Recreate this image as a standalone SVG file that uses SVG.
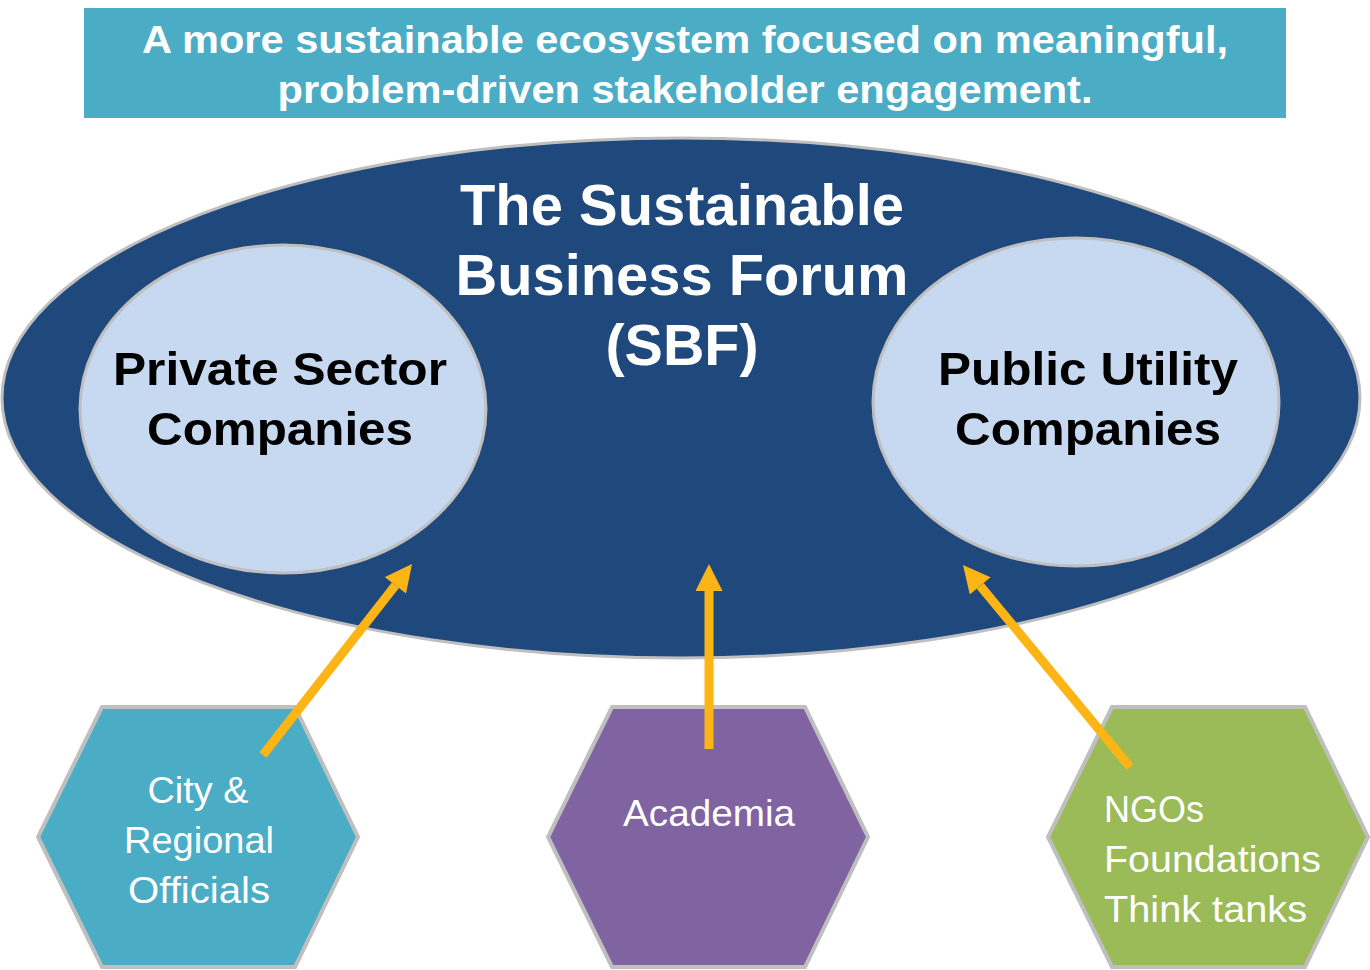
<svg xmlns="http://www.w3.org/2000/svg" width="1370" height="970" viewBox="0 0 1370 970">
<style>
.ring{stroke:#BFBFBF;stroke-width:3}
.hex{stroke:#BFBFBF;stroke-width:4}
.banner{font-family:"Liberation Sans",Arial,sans-serif;font-weight:bold;font-size:38px;fill:#fff;text-anchor:middle}
.title{font-family:"Liberation Sans",Arial,sans-serif;font-weight:bold;font-size:57px;fill:#fff;text-anchor:middle}
.inner{font-family:"Liberation Sans",Arial,sans-serif;font-weight:bold;font-size:47px;fill:#000;text-anchor:middle}
.hext{font-family:"Liberation Sans",Arial,sans-serif;font-size:36px;fill:#fff}
.arr{stroke:#FDB515;stroke-width:9;fill:none;marker-end:url(#ah)}
</style>
<defs>
<marker id="ah" viewBox="0 0 10 10" refX="0" refY="5" markerWidth="3.1" markerHeight="3" orient="auto" markerUnits="strokeWidth">
<path d="M0,0 L10,5 L0,10 z" fill="#FDB515"/>
</marker>
</defs>
<rect width="1370" height="970" fill="#fff"/>
<g id="banner">
<rect x="84" y="8" width="1202" height="110" fill="#4BACC6"/>
<text class="banner" x="685" y="53" textLength="1086" lengthAdjust="spacingAndGlyphs">A more sustainable ecosystem focused on meaningful,</text>
<text class="banner" x="685" y="103" textLength="815" lengthAdjust="spacingAndGlyphs">problem-driven stakeholder engagement.</text>
</g>
<g id="sbf">
<ellipse class="ring" cx="681" cy="398" rx="679" ry="260" fill="#1F497D"/>
<text class="title" x="682" y="225" textLength="444" lengthAdjust="spacingAndGlyphs">The Sustainable</text>
<text class="title" x="682" y="295" textLength="453" lengthAdjust="spacingAndGlyphs">Business Forum</text>
<text class="title" x="682" y="365" textLength="153" lengthAdjust="spacingAndGlyphs">(SBF)</text>
</g>
<g id="private">
<ellipse class="ring" cx="283" cy="409" rx="203" ry="164" fill="#C6D9F1"/>
<text class="inner" x="280" y="385" textLength="334" lengthAdjust="spacingAndGlyphs">Private Sector</text>
<text class="inner" x="280" y="445" textLength="266" lengthAdjust="spacingAndGlyphs">Companies</text>
</g>
<g id="public">
<ellipse class="ring" cx="1076" cy="402" rx="203" ry="164" fill="#C6D9F1"/>
<text class="inner" x="1088" y="385" textLength="300" lengthAdjust="spacingAndGlyphs">Public Utility</text>
<text class="inner" x="1088" y="445" textLength="266" lengthAdjust="spacingAndGlyphs">Companies</text>
</g>
<g id="city">
<polygon class="hex" points="102,707 295,707 358,837 295,967 102,967 38,837" fill="#4BACC6"/>
<text class="hext" x="198" y="803" text-anchor="middle" textLength="101" lengthAdjust="spacingAndGlyphs">City &amp;</text>
<text class="hext" x="199" y="853" text-anchor="middle" textLength="150" lengthAdjust="spacingAndGlyphs">Regional</text>
<text class="hext" x="199" y="903" text-anchor="middle" textLength="142" lengthAdjust="spacingAndGlyphs">Officials</text>
</g>
<g id="academia">
<polygon class="hex" points="612,707 805,707 868,837 805,967 612,967 548,837" fill="#8064A2"/>
<text class="hext" x="709" y="826" text-anchor="middle" textLength="172" lengthAdjust="spacingAndGlyphs">Academia</text>
</g>
<g id="ngos">
<polygon class="hex" points="1112,707 1305,707 1368,837 1305,967 1112,967 1048,837" fill="#9BBB59"/>
<text class="hext" x="1104" y="822" textLength="100" lengthAdjust="spacingAndGlyphs">NGOs</text>
<text class="hext" x="1104" y="872" textLength="217" lengthAdjust="spacingAndGlyphs">Foundations</text>
<text class="hext" x="1104" y="922" textLength="203" lengthAdjust="spacingAndGlyphs">Think tanks</text>
</g>
<g id="connectors">
<line class="arr" x1="263" y1="755" x2="395.4" y2="585.3"/>
<line class="arr" x1="709" y1="749" x2="709" y2="591"/>
<line class="arr" x1="1130" y1="767" x2="980.2" y2="585.8"/>
</g>
</svg>
